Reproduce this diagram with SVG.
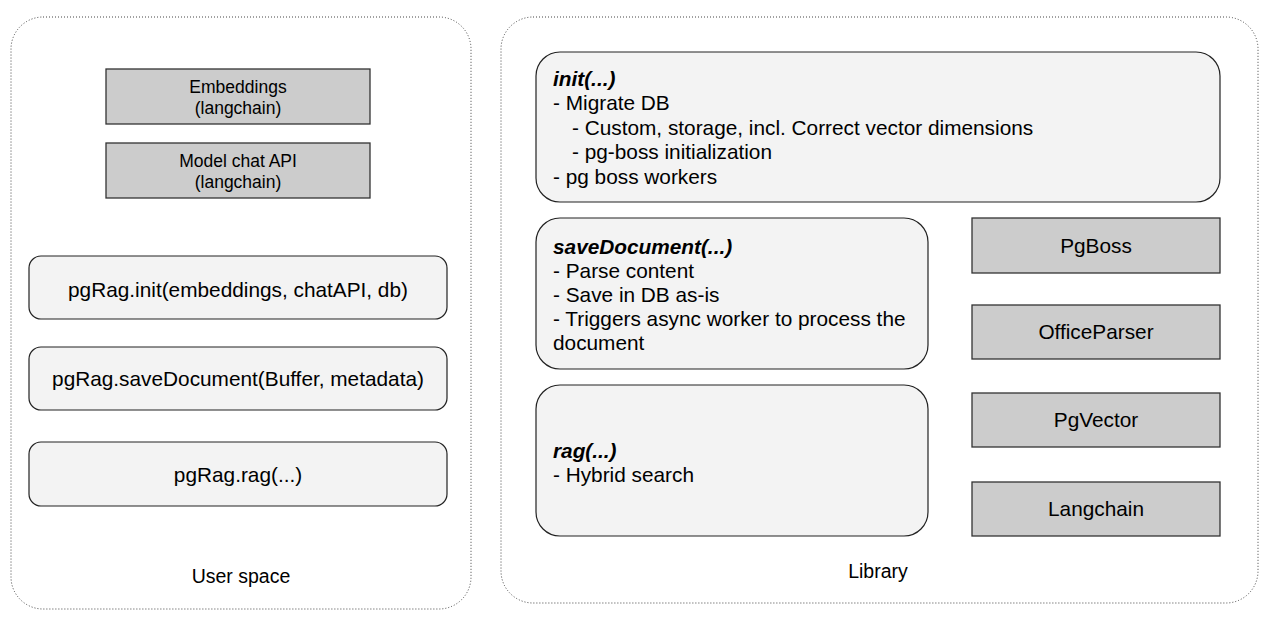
<svg xmlns="http://www.w3.org/2000/svg" width="1279" height="626" viewBox="0 0 1279 626">
<style>
  text { font-family: "Liberation Sans", Arial, sans-serif; fill: #000; }
  .container { fill: none; stroke: #444; stroke-width: 1; stroke-dasharray: 1 2; }
  .lib { fill: #cccccc; stroke: #333; stroke-width: 1.3; }
  .call { fill: #f3f3f3; stroke: #222; stroke-width: 1.2; }
  .t20 { font-size: 20.8px; }
  .t17 { font-size: 17.5px; }
  .c { text-anchor: middle; }
  .h { font-weight: bold; font-style: italic; }
</style>
<rect x="0" y="0" width="1279" height="626" fill="#ffffff"/>

<g id="user-space">
  <rect class="container" x="11" y="17" width="460" height="592" rx="32" ry="32"/>
  <text class="c" x="241" y="583" style="font-size:19.5px">User space</text>
</g>

<g id="library">
  <rect class="container" x="501" y="17" width="757" height="586" rx="32" ry="32"/>
  <text class="c" x="878" y="578" style="font-size:19.5px">Library</text>
</g>

<g id="embeddings">
  <rect class="lib" x="106" y="69" width="264" height="55"/>
  <text class="t17 c" x="238" y="93">Embeddings</text>
  <text class="t17 c" x="238" y="114">(langchain)</text>
</g>

<g id="model-chat-api">
  <rect class="lib" x="106" y="143" width="264" height="55"/>
  <text class="t17 c" x="238" y="167">Model chat API</text>
  <text class="t17 c" x="238" y="188">(langchain)</text>
</g>

<g id="user-init">
  <rect class="call" x="29" y="256" width="418" height="63" rx="12" ry="12"/>
  <text class="t20 c" x="238" y="297">pgRag.init(embeddings, chatAPI, db)</text>
</g>

<g id="user-save">
  <rect class="call" x="29" y="347" width="418" height="63" rx="12" ry="12"/>
  <text class="t20 c" x="238" y="386">pgRag.saveDocument(Buffer, metadata)</text>
</g>

<g id="user-rag">
  <rect class="call" x="29" y="442" width="418" height="64" rx="12" ry="12"/>
  <text class="t20 c" x="238" y="482">pgRag.rag(...)</text>
</g>

<g id="lib-init">
  <rect class="call" x="536" y="52" width="684" height="150" rx="24" ry="24"/>
  <text class="t20 h" x="553" y="85.5">init(...)</text>
  <text class="t20" x="553" y="110">- Migrate DB</text>
  <text class="t20" x="572" y="134.5">- Custom, storage, incl. Correct vector dimensions</text>
  <text class="t20" x="572" y="159">- pg-boss initialization</text>
  <text class="t20" x="553" y="183.5">- pg boss workers</text>
</g>

<g id="lib-save">
  <rect class="call" x="536" y="218" width="392" height="151" rx="24" ry="24"/>
  <text class="t20 h" x="553" y="254">saveDocument(...)</text>
  <text class="t20" x="553" y="278">- Parse content</text>
  <text class="t20" x="553" y="302">- Save in DB as-is</text>
  <text class="t20" x="553" y="326">- Triggers async worker to process the</text>
  <text class="t20" x="553" y="350">document</text>
</g>

<g id="lib-rag">
  <rect class="call" x="536" y="385" width="392" height="151" rx="24" ry="24"/>
  <text class="t20 h" x="553" y="458">rag(...)</text>
  <text class="t20" x="553" y="482">- Hybrid search</text>
</g>

<g id="pgboss">
  <rect class="lib" x="972" y="218" width="248" height="55"/>
  <text class="t20 c" x="1096" y="253">PgBoss</text>
</g>

<g id="officeparser">
  <rect class="lib" x="972" y="305" width="248" height="54"/>
  <text class="t20 c" x="1096" y="339">OfficeParser</text>
</g>

<g id="pgvector">
  <rect class="lib" x="972" y="393" width="248" height="54"/>
  <text class="t20 c" x="1096" y="427">PgVector</text>
</g>

<g id="langchain">
  <rect class="lib" x="972" y="482" width="248" height="54"/>
  <text class="t20 c" x="1096" y="516">Langchain</text>
</g>

<g id="connectors"></g>
</svg>
